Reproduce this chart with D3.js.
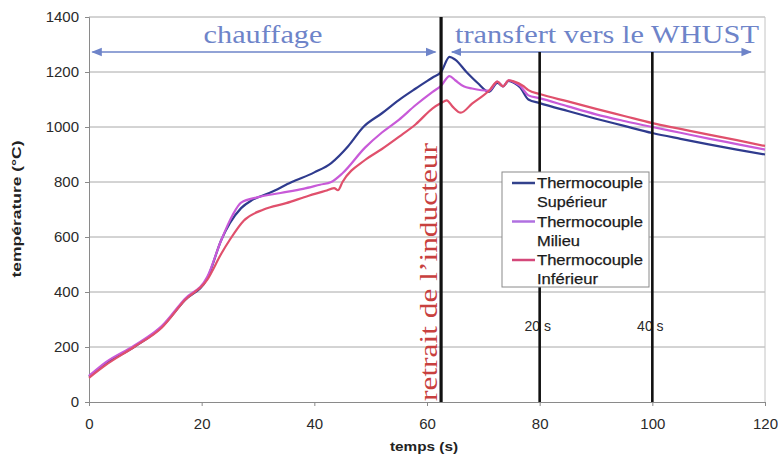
<!DOCTYPE html>
<html><head><meta charset="utf-8">
<script src="https://cdn.jsdelivr.net/npm/d3@7"></script>
<style>
body{margin:0;background:#fff;}
svg{display:block;}
</style></head>
<body>
<svg id="chart" width="778" height="465"></svg>
<script>
// ---- data ----
const seriesNames = ["Thermocouple Supérieur", "Thermocouple Milieu", "Thermocouple Inférieur"];
const legendLine1 = ["Thermocouple", "Thermocouple", "Thermocouple"];
const legendLine2 = ["Supérieur", "Milieu", "Inférieur"];

const tSup = [0,3,8,13,17,21,23.5,25,27,29,32,36,40,43,46,48.7,52,55,58,61,62.5,64,65,67,69,71,72.5,73.5,74.5,75.5,76.5,78,80,85,90,95,100,105,110,115,120];
const vSup = [92,140,200,275,370,450,590,650,705,735,760,800,835,869,930,1000,1050,1098,1140,1180,1200,1255,1245,1200,1160,1128,1160,1148,1168,1160,1145,1100,1087,1058,1030,1004,978,957,937,918,900];

const tMil = [0,3,8,13,17,21,23.5,25.5,27,30,34,38,41,43,45,49,52,55,58,61,62.5,64,65,66.5,68,71,72.5,73.5,74.5,75.5,76.5,78,80,85,90,95,100,105,110,115,120];
const vMil = [95,145,205,278,375,455,590,680,725,745,760,775,790,800,832,925,980,1026,1080,1128,1150,1185,1170,1148,1140,1132,1165,1148,1170,1163,1150,1115,1105,1075,1046,1022,1000,979,958,938,918];

const tInf = [0,3,8,13,17,21,23.5,25,27.5,31,35,39,42,43.5,44.2,45,49,52,55,58,61,62.5,63.5,64.5,66,68,71,72.5,73.5,74.5,75.5,77,78,80,85,90,95,100,105,110,115,120];
const vInf = [88,135,200,272,370,445,540,590,660,700,723,750,768,778,770,800,880,920,964,1010,1068,1087,1097,1075,1052,1085,1132,1165,1148,1170,1165,1150,1134,1120,1093,1066,1040,1014,993,972,952,931];

const xTicks = [0,20,40,60,80,100,120];
const yTicks = [0,200,400,600,800,1000,1200,1400];
const markerTimes = [62.5, 80, 100];
const markerLabels = ["", "20 s", "40 s"];
const phaseLabels = ["chauffage", "transfert vers le WHUST"];
const phaseStart = [0.6, 64.4];
const phaseEnd = [61.5, 117.5];
const seriesColors = ["#2f3b8e", "#c85ad8", "#e0506c"];
const legendColors = ["#33428c", "#b070e0", "#d4487a"];

// ---- layout ----
const svg = d3.select("#chart");
const x = d3.scaleLinear().domain([0,120]).range([89,765]);
const y = d3.scaleLinear().domain([0,1400]).range([402,17]);
const gridC = "#a8a8a8";

// gridlines
svg.append("g").selectAll("line").data(yTicks.filter(d=>d>0)).join("line")
  .attr("x1", x(0)).attr("x2", x(120))
  .attr("y1", d=>y(d)).attr("y2", d=>y(d))
  .attr("stroke", gridC).attr("stroke-width", 1);
// right border
svg.append("line").attr("x1", x(120)).attr("x2", x(120)).attr("y1", y(1400)).attr("y2", y(0))
  .attr("stroke", "#c4c4c4").attr("stroke-width", 1);

// axes
const yAxis = svg.append("g").attr("transform", `translate(${x(0)},0)`)
  .call(d3.axisLeft(y).tickValues(yTicks).tickFormat(d3.format("d")).tickSize(4).tickPadding(6));
const xAxis = svg.append("g").attr("transform", `translate(0,${y(0)})`)
  .call(d3.axisBottom(x).tickValues(xTicks).tickFormat(d3.format("d")).tickSize(4).tickPadding(12));
[yAxis, xAxis].forEach(a=>{
  a.select(".domain").attr("stroke", "#8a8a8a");
  a.selectAll(".tick line").attr("stroke", "#8a8a8a");
  a.selectAll(".tick text").attr("font-family", "Arial, 'Liberation Sans', sans-serif")
    .attr("font-size", 15).attr("fill", "#2a2a2a");
});

// phase annotation text and arrows
const blueTxt = "#6e84c9";
const defs = svg.append("defs");
["s","e"].forEach(k=>{
  defs.append("marker").attr("id","arr"+k).attr("viewBox","0 0 10 10")
    .attr("refX", 9).attr("refY",5).attr("markerWidth",7).attr("markerHeight",7)
    .attr("orient", k==="s" ? "auto-start-reverse" : "auto")
    .append("path").attr("d","M0,1 L10,5 L0,9 Z").attr("fill", blueTxt);
});
svg.append("g").selectAll("line").data(phaseLabels).join("line")
  .attr("x1", (d,i)=>x(phaseStart[i])).attr("x2", (d,i)=>x(phaseEnd[i]))
  .attr("y1", 52).attr("y2", 52)
  .attr("stroke", blueTxt).attr("stroke-width", 1.5)
  .attr("marker-start", "url(#arrs)").attr("marker-end", "url(#arre)");
const phaseTextX = [263, 607];
const phaseTextLen = [119, 304];
svg.append("g").selectAll("text").data(phaseLabels).join("text")
  .attr("x", (d,i)=>phaseTextX[i]).attr("y", 43)
  .attr("text-anchor", "middle")
  .attr("font-family", "'Liberation Serif', 'Times New Roman', serif")
  .attr("font-size", 26).attr("fill", blueTxt)
  .attr("textLength", (d,i)=>phaseTextLen[i]).attr("lengthAdjust", "spacingAndGlyphs")
  .text(d=>d);

// retrait text (vertical, red)
svg.append("text")
  .attr("transform", `translate(${x(62.5)-4},272) rotate(-90)`)
  .attr("text-anchor", "middle")
  .attr("font-family", "'Liberation Serif', 'Times New Roman', serif")
  .attr("font-size", 26).attr("fill", "#c8403e")
  .attr("textLength", 258).attr("lengthAdjust", "spacingAndGlyphs")
  .text("retrait de l\u2019inducteur");

// marker labels
svg.append("g").selectAll("text").data(markerLabels).join("text")
  .attr("x", (d,i)=>x(markerTimes[i])-2).attr("y", 331)
  .attr("text-anchor", "middle")
  .attr("font-family", "Arial, 'Liberation Sans', sans-serif")
  .attr("font-size", 14).attr("fill", "#2a2a2a")
  .text(d=>d);

// curves
const series = [
  {t:tSup, v:vSup},
  {t:tMil, v:vMil},
  {t:tInf, v:vInf}
];
const line = d3.line().x(d=>x(d[0])).y(d=>y(d[1])).curve(d3.curveMonotoneX);
svg.append("g").selectAll("path").data(series).join("path")
  .attr("d", s=>line(s.t.map((t,i)=>[t, s.v[i]])))
  .attr("fill", "none")
  .attr("stroke", (d,i)=>seriesColors[i])
  .attr("stroke-width", 2.2)
  .attr("stroke-linejoin", "round");

// vertical marker lines
const markerTop = [y(1400), 52, 52];
svg.append("g").selectAll("line").data(markerTimes).join("line")
  .attr("x1", d=>x(d)).attr("x2", d=>x(d))
  .attr("y1", (d,i)=>markerTop[i]).attr("y2", y(0))
  .attr("stroke", "#111").attr("stroke-width", (d,i)=> i===0 ? 3.2 : 2.6);

// legend
const lg = svg.append("g").attr("transform", "translate(502,172)");
lg.append("rect").attr("x",0).attr("y",0).attr("width",147).attr("height",115)
  .attr("fill", "#fff").attr("stroke", "#8a8a8a").attr("stroke-width", 1);
const items = lg.selectAll("g.item").data(seriesNames).join("g").attr("class","item")
  .attr("transform", (d,i)=>`translate(0,${11 + i*38.5})`);
const line2Len = [70, 43, 61];
items.append("line").attr("x1", 10).attr("x2", 33).attr("y1", 0).attr("y2", 0)
  .attr("stroke", (d,i)=>legendColors[i]).attr("stroke-width", 2.5);
items.append("text").attr("x", 35).attr("y", 5)
  .attr("font-family", "Arial, 'Liberation Sans', sans-serif").attr("font-size", 15)
  .attr("fill", "#1a1a1a").attr("stroke", "#1a1a1a").attr("stroke-width", 0.25)
  .attr("textLength", 106).attr("lengthAdjust","spacingAndGlyphs")
  .text((d,i)=>legendLine1[i]);
items.append("text").attr("x", 35).attr("y", 24)
  .attr("font-family", "Arial, 'Liberation Sans', sans-serif").attr("font-size", 15)
  .attr("fill", "#1a1a1a").attr("stroke", "#1a1a1a").attr("stroke-width", 0.25)
  .attr("textLength", (d,i)=>line2Len[i]).attr("lengthAdjust","spacingAndGlyphs")
  .text((d,i)=>legendLine2[i]);

// axis titles
svg.append("text").attr("x", 424).attr("y", 451).attr("text-anchor","middle")
  .attr("font-family", "Arial, 'Liberation Sans', sans-serif").attr("font-weight","bold")
  .attr("font-size", 13).attr("fill","#222")
  .attr("textLength", 68).attr("lengthAdjust","spacingAndGlyphs")
  .text("temps (s)");
svg.append("text").attr("transform", "translate(21,209) rotate(-90)").attr("text-anchor","middle")
  .attr("font-family", "Arial, 'Liberation Sans', sans-serif").attr("font-weight","bold")
  .attr("font-size", 12).attr("fill","#222")
  .attr("textLength", 137).attr("lengthAdjust","spacingAndGlyphs")
  .text("température (°C)");
</script>
</body></html>
